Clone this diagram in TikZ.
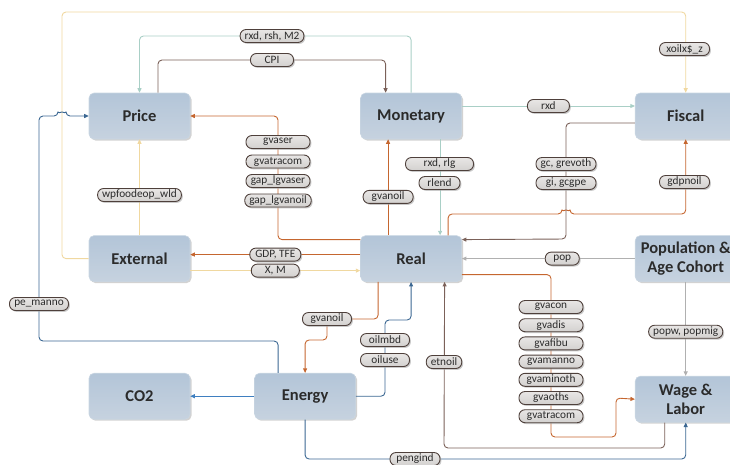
\documentclass[tikz,border=0pt]{standalone}
\usepackage{fontspec}
\setmainfont{Carlito}
\usepackage{xcolor}
\usepackage{tikz}
\usetikzlibrary{arrows.meta,positioning,shadows}

\definecolor{boxtop}{HTML}{B3C5D8}
\definecolor{boxbot}{HTML}{C6D2DF}
\definecolor{boxedge}{HTML}{C9D6E2}
\definecolor{boxtext}{HTML}{2B2B2B}
\definecolor{pilltop}{HTML}{E8E6E5}
\definecolor{pillbot}{HTML}{D3D1CF}
\definecolor{pilledge}{HTML}{4E403B}
\definecolor{org}{HTML}{C5662F}
\definecolor{brn}{HTML}{7B6159}
\definecolor{tea}{HTML}{A9CFC6}
\definecolor{yel}{HTML}{F0D8A0}
\definecolor{gry}{HTML}{B0B0B0}
\definecolor{blu}{HTML}{3B6792}
\definecolor{bluco}{HTML}{3F7FC0}

\begin{document}
\begin{tikzpicture}[x=1pt, y=-1pt,
    mainbox/.style={draw=boxedge, line width=0.6pt, rounded corners=5pt,
                    top color=boxtop, bottom color=boxbot,
                    drop shadow={shadow xshift=1.5pt, shadow yshift=-1.5pt,
                                 fill=black!25, opacity=0.7},
                    minimum width=101pt, minimum height=46pt, inner xsep=0pt,
                    align=center, text=boxtext,
                    font=\fontsize{16.5}{19}\selectfont\bfseries},
    pill/.style={draw=pilledge, line width=0.9pt, rounded corners=6pt,
                 top color=pilltop, bottom color=pillbot,
                 drop shadow={shadow xshift=1.4pt, shadow yshift=-1.4pt,
                              fill=black!35, opacity=0.6},
                 inner xsep=4.5pt, inner ysep=0pt,
                 minimum height=13pt, minimum width=42pt,
                 text=boxtext, font=\fontsize{11.3}{12}\selectfont},
    arrow/.style={-{Triangle[length=4.5pt, width=4pt]}, line width=0.9pt,
                  rounded corners=4pt},
  ]
  \useasboundingbox (0,0) rectangle (730,464);

  % blocks
  \node[mainbox] (price) at (139.5,116) {Price};
  \node[mainbox, right=170pt of price] (monetary) {Monetary};
  \node[mainbox, right=173pt of monetary] (fiscal) {Fiscal};
  \node[mainbox, below=96pt of price] (external) {External};
  \node[mainbox, right=170pt of external] (real) {Real};
  \node[mainbox, right=173pt of real] (population) {Population \&\\Age Cohort};
  \node[mainbox, below=91pt of external] (co2) {CO2};
  \node[mainbox, right=64pt of co2] (energy) {Energy};
  \node[mainbox, below=94pt of population] (wage) {Wage \&\\Labor};

  % External -> Fiscal (round the top)
  \draw[arrow, yel] (external.west) -| (62,12) -| (fiscal.north);
  \node[pill, minimum width=50pt] (xoil) at (684.5,49) {xoilx\$\_z};

  % Monetary -> Price
  \draw[arrow, tea] (monetary.north) |- (272,36)
    node[pill, minimum width=63pt] (rrsh) {rxd, rsh, M2} -| (price.north);

  % Price -> Monetary
  \draw[arrow, brn] ([xshift=18.5pt]price.north) |- (272,60)
    node[pill, minimum width=43pt] (cpi) {CPI} -| ([xshift=-25.5pt]monetary.north);

  % Monetary -> Fiscal
  \draw[arrow, tea] ([yshift=10pt]monetary.east) --
    node[pill] (rxd) {rxd} ([yshift=10pt]fiscal.west);

  % Monetary -> Real
  \draw[arrow, tea] ([xshift=29pt]monetary.south) -- ([xshift=29pt]real.north);
  \node[pill, minimum width=68pt] (rlg) at (439.5,164) {rxd, rlg};
  \node[pill, minimum width=41pt] (rlend) at (439.5,183) {rlend};

  % Real -> Price
  \draw[arrow, org] ([yshift=19pt]real.west) -| (278,116) -- (price.east);
  \foreach \lbl [count=\i] in {gvaser, gvatracom, gap\_lgvaser, gap\_lgvanoil}
    \node[pill, minimum width=64pt] (gp\i) at (278,122.5+19.5*\i) {\lbl};

  % Real -> Monetary
  \draw[arrow, org] ([xshift=-23pt]real.north) --
    node[pill, pos=0.4, minimum width=50pt] (gvanoil) {gvanoil}
    ([xshift=-23pt]monetary.south);

  % Real -> Fiscal, hopping over the brown line
  \draw[arrow, org] ([xshift=37pt]real.north) |- (562,214)
    arc (180:360:4) -| (fiscal.south);
  \node[pill, minimum width=50pt] (gdpn) at (684.5,182) {gdpnoil};

  % Fiscal -> Real
  \draw[arrow, brn] ([yshift=-7pt]fiscal.west) -| (566,239) -- ([yshift=19pt]real.east);
  \node[pill, minimum width=60pt] (gcg) at (566,164) {gc, grevoth};
  \node[pill, minimum width=60pt] (gig) at (566,183) {gi, gcgpe};

  % Real <-> External
  \draw[arrow, org] ([yshift=4pt]real.west) --
    node[pill, minimum width=51pt] (gdptfe) {GDP, TFE} ([yshift=4pt]external.east);
  \draw[arrow, yel] ([yshift=-12pt]external.east) --
    node[pill, minimum width=48pt] (xm) {X, M} ([yshift=-12pt]real.west);

  % External -> Price
  \draw[arrow, yel] (external.north) --
    node[pill, pos=0.42] (wpf) {wpfoodeop\_wld} (price.south);

  % Population -> Real, Wage
  \draw[arrow, gry] (population.west) --
    node[pill, pos=0.42, minimum width=34pt] (popl) {pop} (real.east);
  \draw[arrow, gry] (population.south) --
    node[pill, pos=0.53] (popw) {popw, popmig} (wage.north);

  % Real -> Wage
  \draw[arrow, org] ([yshift=-16pt]real.east) -| (551,437) -| (616,398) -- (wage.west);
  \foreach \lbl [count=\i] in {gvacon, gvadis, gvafibu, gvamanno, gvaminoth, gvaoths, gvatracom}
    \node[pill, minimum width=64pt] (gw\i) at (551,288.8+18.2*\i) {\lbl};

  % Wage -> Real
  \draw[arrow, brn] ([xshift=-21pt]wage.south) |- (444,448) -- ([xshift=33.5pt]real.south);
  \node[pill, minimum width=33pt] (etn) at (444,362) {etnoil};

  % Energy -> Wage
  \draw[arrow, blu] (energy.south) |- (415,459)
    node[pill, minimum width=50pt] (peng) {pengind} -| (wage.south);

  % Energy -> Real
  \draw[arrow, blu] (energy.east) -| (385,320) -| (real.south);
  \node[pill, minimum width=49pt] (oilm) at (385,340) {oilmbd};
  \node[pill, minimum width=49pt] (oilu) at (385,360) {oiluse};

  % Real -> Energy
  \draw[arrow, org] ([xshift=-33pt]real.south) |- (327,319)
    node[pill, minimum width=49pt] (gvanoil2) {gvanoil} -- (327,340) -| (energy.north);

  % Energy -> Price, hopping over the yellow line
  \draw[arrow, blu] ([xshift=-27pt]energy.north) |- (39,341) |- (58,116)
    arc (180:360:4) -- (price.west);
  \node[pill, minimum width=59pt] (pem) at (39,304) {pe\_manno};

  % Energy -> CO2
  \draw[arrow, bluco] (energy.west) -- (co2.east);

\end{tikzpicture}
\end{document}
